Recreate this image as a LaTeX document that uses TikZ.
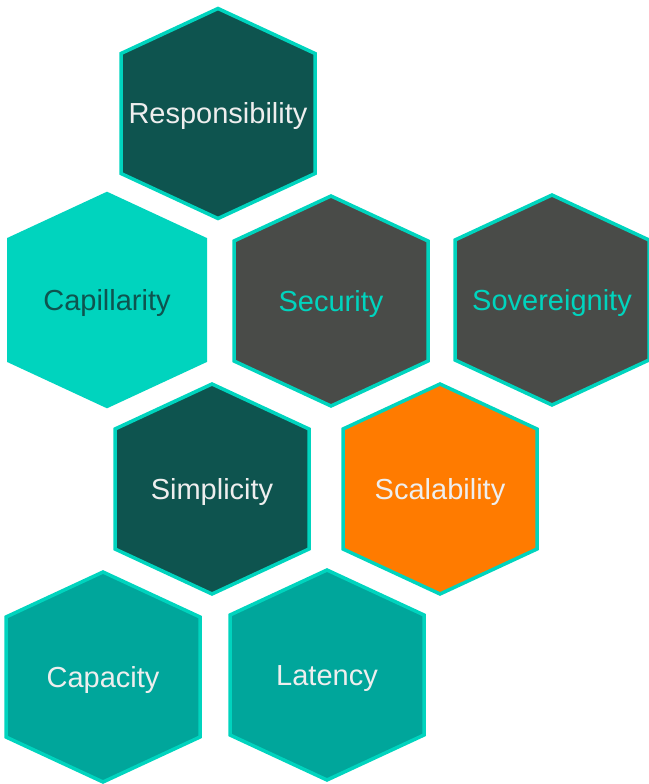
\documentclass[tikz,border=0pt]{standalone}
\usepackage{fontspec}
\setmainfont{Liberation Sans}
\usepackage{tikz}
\definecolor{hex_dark}{RGB}{14,84,79}
\definecolor{hex_rim}{RGB}{0,212,190}
\definecolor{hex_gray}{RGB}{73,75,72}
\definecolor{hex_orange}{RGB}{255,123,0}
\definecolor{hex_teal}{RGB}{0,166,155}
\definecolor{text_light}{RGB}{238,238,238}

% name, x, y, cell style, text style, label
\newcommand{\hexcell}[6]{%
  \draw[#4] (#2,#3) +(0,-105) -- +(97,-60) -- +(97,60) -- +(0,105)
    -- +(-97,60) -- +(-97,-60) -- cycle;
  \node[#5] (#1) at (#2,#3+10) {#6};
}

\begin{document}
\begin{tikzpicture}[x=1pt,y=-1pt]
    \tikzstyle{cell}=[draw=hex_rim, line width=3.5pt]
    \tikzstyle{label}=[anchor=base, inner sep=0pt, font=\fontsize{29}{34}\selectfont]

    \useasboundingbox (0,0) rectangle (648,784);

    \hexcell{resp}{218}{113.5}{cell, fill=hex_dark}{label, text=text_light}{Responsibility}
    \hexcell{capi}{107}{300}{cell, line width=6pt, fill=hex_rim}{label, text=hex_dark}{Capillarity}
    \hexcell{secu}{331}{301}{cell, fill=hex_gray}{label, text=hex_rim}{Security}
    \hexcell{sove}{552}{300}{cell, fill=hex_gray}{label, text=hex_rim}{Sovereignity}
    \hexcell{simp}{212}{489}{cell, fill=hex_dark}{label, text=text_light}{Simplicity}
    \hexcell{scal}{440}{489}{cell, fill=hex_orange}{label, text=text_light}{Scalability}
    \hexcell{capa}{103}{677}{cell, fill=hex_teal}{label, text=text_light}{Capacity}
    \hexcell{late}{327}{675}{cell, fill=hex_teal}{label, text=text_light}{Latency}
  \end{tikzpicture}
\end{document}
